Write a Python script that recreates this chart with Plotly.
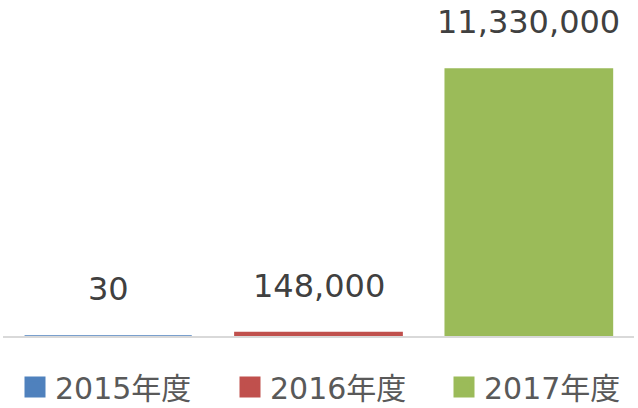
import plotly.graph_objects as go

# 年度ごとの値
years = ["2015年度", "2016年度", "2017年度"]
values = [30, 148000, 11330000]
colors = ["#4F81BD", "#C0504D", "#9BBB59"]
legend_ids = ["legend", "legend2", "legend3"]
legend_x = [15, 230, 444]  # px from left edge of the page

fig = go.Figure()
for yr, v, c, lg in zip(years, values, colors, legend_ids):
    fig.add_trace(go.Bar(x=[yr], y=[v], name=yr, marker_color=c,
                         marker_line=dict(color=c, width=1.5), showlegend=False))
    # legend-only entry so the square can be bigger
    fig.add_trace(go.Scatter(x=[None], y=[None], mode="markers", name=yr, legend=lg,
                             marker=dict(symbol="square", size=16, color=c,
                                         line=dict(color=c, width=5))))
    # value label above each bar
    fig.add_annotation(x=yr, y=v, text=f"{v:,}", showarrow=False,
                       yanchor="bottom", yshift=26,
                       font=dict(size=32, color="#404040"))

leg = dict(orientation="h", xref="container", yref="paper", xanchor="left",
           y=-0.152, yanchor="middle", font=dict(size=30, color="#595959"),
           bgcolor="rgba(0,0,0,0)")
fig.update_layout(
    width=638, height=408,
    margin=dict(l=3, r=4, t=0, b=72, autoexpand=False),
    plot_bgcolor="white", paper_bgcolor="white",
    font=dict(family="DejaVu Sans, Noto Sans CJK JP", color="#595959"),
    barmode="overlay", bargap=0.205,
    legend=dict(leg, x=legend_x[0] / 638),
    legend2=dict(leg, x=legend_x[1] / 638),
    legend3=dict(leg, x=legend_x[2] / 638),
)
fig.update_xaxes(showline=True, linecolor="#D9D9D9", linewidth=2, layer="below traces",
                 showticklabels=False, showgrid=False, zeroline=False)
fig.update_yaxes(visible=False, range=[0, 14258000])
# drop the default 8px page margin so the figure sits at the window corner
fig.write_html("out.html", config={"displayModeBar": False},
               post_script="document.body.style.margin='0';")
